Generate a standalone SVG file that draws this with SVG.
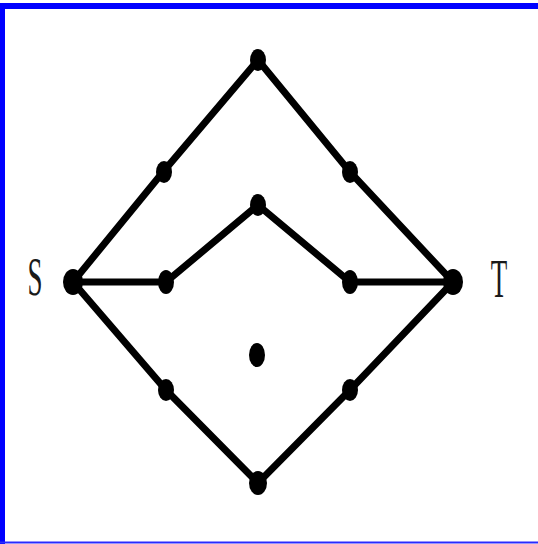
<svg xmlns="http://www.w3.org/2000/svg" width="538" height="544" viewBox="0 0 538 544">
<style>
.e{stroke:#000;stroke-width:7;stroke-linecap:round;fill:none}
.v{fill:#000}
.lbl{font-family:"Liberation Serif",serif;font-size:27px;fill:#1a1a1a;text-anchor:middle}
</style>
<rect x="0" y="0" width="538" height="544" fill="#fff"/>
<rect x="0" y="3" width="538" height="6" fill="#0000ff"/>
<rect x="0" y="3" width="5" height="541" fill="#0000ff"/>
<rect x="0" y="541.5" width="538" height="2" fill="#2a2aff"/>
<g id="edges">
<path class="e" d="M73,282 L163,172 L258,60 L350,172 L453,282"/>
<path class="e" d="M73,282 L166,282 L258,205 L350,282 L453,282"/>
<path class="e" d="M73,282 L166,390 L258,483 L350,390 L453,282"/>
</g>
<g id="S"><ellipse class="v" cx="73" cy="282" rx="10" ry="13"/><text class="lbl" transform="translate(35,295) scale(1,2)">S</text></g>
<g id="T"><ellipse class="v" cx="453" cy="282" rx="10" ry="13"/><text class="lbl" transform="translate(499,297) scale(1,2)">T</text></g>
<g id="A"><ellipse class="v" cx="258" cy="60" rx="8" ry="11"/></g>
<g id="B"><ellipse class="v" cx="164" cy="172" rx="8" ry="11"/></g>
<g id="C"><ellipse class="v" cx="350" cy="172" rx="8" ry="11"/></g>
<g id="D"><ellipse class="v" cx="258" cy="205" rx="8" ry="11"/></g>
<g id="E"><ellipse class="v" cx="166" cy="282" rx="8" ry="12"/></g>
<g id="F"><ellipse class="v" cx="350" cy="282" rx="8" ry="12"/></g>
<g id="G"><ellipse class="v" cx="257" cy="355" rx="8" ry="12"/></g>
<g id="H"><ellipse class="v" cx="166" cy="390" rx="8" ry="11"/></g>
<g id="I"><ellipse class="v" cx="350" cy="390" rx="8" ry="11"/></g>
<g id="J"><ellipse class="v" cx="258" cy="483" rx="9" ry="12"/></g>
</svg>
